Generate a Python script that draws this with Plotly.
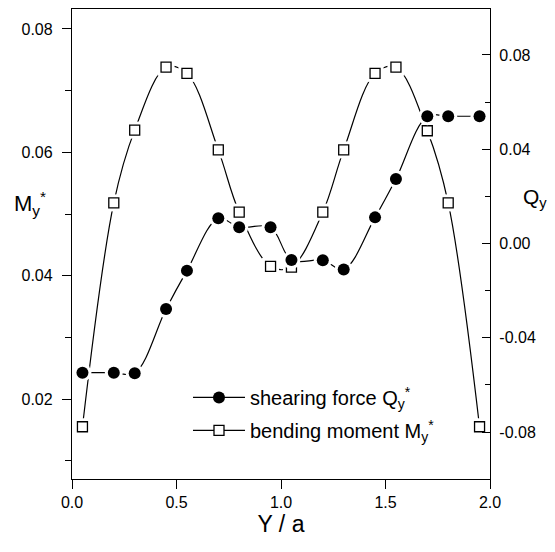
import plotly.graph_objects as go

# Data
y_over_a = [0.05, 0.2, 0.3, 0.45, 0.55, 0.7, 0.8, 0.95, 1.05, 1.2, 1.3, 1.45, 1.55, 1.7, 1.8, 1.95]
shearing_q = [-0.0548, -0.0548, -0.0550, -0.0278, -0.0115, 0.0107, 0.0069, 0.0069,
              -0.0070, -0.0071, -0.0110, 0.0111, 0.0274, 0.0540, 0.0540, 0.0540]
bending_m = [0.0155, 0.0518, 0.0636, 0.0738, 0.0728, 0.0604, 0.0503, 0.0415,
             0.0414, 0.0503, 0.0604, 0.0728, 0.0738, 0.0635, 0.0518, 0.0155]

x_ticks = [0.0, 0.5, 1.0, 1.5, 2.0]
x_ticktext = ["0.0", "0.5", "1.0", "1.5", "2.0"]
m_ticks = [0.02, 0.04, 0.06, 0.08]
m_ticktext = ["0.02", "0.04", "0.06", "0.08"]
q_ticks = [-0.08, -0.04, 0.0, 0.04, 0.08]
q_ticktext = ["-0.08", "-0.04", "0.00", "0.04", "0.08"]

FONT = "Liberation Sans, Arial, Helvetica, sans-serif"
BLACK = "black"

fig = go.Figure()

# ---- bending moment (left axis) ----
fig.add_trace(go.Scatter(
    x=y_over_a, y=bending_m, mode="lines+markers", yaxis="y",
    name="bending moment M<sub>y</sub><sup>*</sup>",
    legendgroup="m", legendrank=2,
    line=dict(color=BLACK, width=1.2, shape="spline", smoothing=1),
    marker=dict(symbol="square", size=10, color="white", line=dict(color=BLACK, width=1.3)),
))
fig.add_trace(go.Scatter(
    x=y_over_a, y=bending_m, mode="markers", yaxis="y", showlegend=False, hoverinfo="skip",
    marker=dict(symbol="square", size=17, color="white", line=dict(width=0)),
))
fig.add_trace(go.Scatter(
    x=y_over_a, y=bending_m, mode="markers", yaxis="y", showlegend=False,
    marker=dict(symbol="square", size=10, color="white", line=dict(color=BLACK, width=1.3)),
))

# ---- shearing force (right axis) ----
fig.add_trace(go.Scatter(
    x=y_over_a, y=shearing_q, mode="lines+markers", yaxis="y2",
    name="shearing force Q<sub>y</sub><sup>*</sup>",
    legendgroup="q", legendrank=1,
    line=dict(color=BLACK, width=1.2, shape="spline", smoothing=1),
    marker=dict(symbol="circle", size=12, color=BLACK, line=dict(width=0)),
))
fig.add_trace(go.Scatter(
    x=y_over_a, y=shearing_q, mode="markers", yaxis="y2", showlegend=False, hoverinfo="skip",
    marker=dict(symbol="circle", size=18, color="white", line=dict(width=0)),
))
fig.add_trace(go.Scatter(
    x=y_over_a, y=shearing_q, mode="markers", yaxis="y2", showlegend=False,
    marker=dict(symbol="circle", size=12, color=BLACK, line=dict(width=0)),
))

fig.update_layout(
    width=539, height=536,
    margin=dict(l=64, r=57, t=1, b=65),
    paper_bgcolor="white", plot_bgcolor="white",
    font=dict(family=FONT, size=16, color=BLACK),
    xaxis=dict(
        range=[0, 2.0], tickvals=x_ticks, ticktext=x_ticktext,
        showline=True, linecolor=BLACK, linewidth=1.3, mirror=True,
        ticks="outside", ticklen=9, tickwidth=1.2, tickcolor=BLACK,
        showgrid=False, zeroline=False,
        title=dict(text="Y / a", font=dict(size=23), standoff=1),
        tickfont=dict(size=16),
    ),
    yaxis=dict(
        range=[0.00703, 0.08324], tickvals=m_ticks, ticktext=m_ticktext,
        showline=True, linecolor=BLACK, linewidth=1.3,
        ticks="outside", ticklen=9, tickwidth=1.2, tickcolor=BLACK,
        minor=dict(tickvals=[0.01, 0.03, 0.05, 0.07], ticks="outside", ticklen=6,
                   tickwidth=1.2, tickcolor=BLACK, showgrid=False),
        showgrid=False, zeroline=False, tickfont=dict(size=16),
        ticklabelstandoff=6,
    ),
    yaxis2=dict(
        overlaying="y", side="right",
        range=[-0.0999, 0.0995], tickvals=q_ticks, ticktext=q_ticktext,
        showline=True, linecolor=BLACK, linewidth=1.3,
        ticks="inside", ticklen=8, tickwidth=1.2, tickcolor=BLACK,
        minor=dict(tickvals=[-0.06, -0.02, 0.02, 0.06], ticks="inside", ticklen=5,
                   tickwidth=1.2, tickcolor=BLACK, showgrid=False),
        showgrid=False, zeroline=False, tickfont=dict(size=16),
        ticklabelstandoff=5,
    ),
    legend=dict(
        x=0.2775, y=0.215, xanchor="left", yanchor="top",
        bgcolor="rgba(0,0,0,0)", borderwidth=0,
        font=dict(size=20, family=FONT),
        traceorder="grouped", tracegroupgap=4, itemwidth=52,
    ),
    showlegend=True,
    annotations=[
        dict(text="M<sub>y</sub><sup>*</sup>", xref="paper", yref="paper",
             x=-0.1435, y=0.587, xanchor="left", showarrow=False,
             font=dict(size=22, family=FONT)),
        dict(text="Q<sub>y</sub>", xref="paper", yref="paper",
             x=1.074, y=0.598, xanchor="left", showarrow=False,
             font=dict(size=21, family=FONT)),
    ],
)

fig.write_html("out.html")
